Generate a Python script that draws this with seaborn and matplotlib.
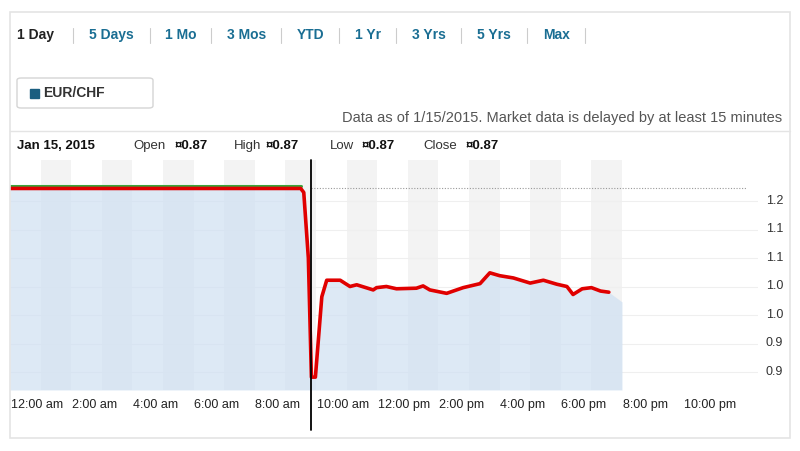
import matplotlib
matplotlib.use("Agg")
import matplotlib.pyplot as plt
import seaborn as sns
import numpy as np
import pandas as pd
from matplotlib.patches import FancyBboxPatch, Rectangle
from matplotlib.lines import Line2D

sns.set_style("white")
plt.rcParams['font.family'] = ['Liberation Sans', 'DejaVu Sans']

hours = [0, 1, 2, 3, 4, 5, 6, 7, 8, 9, 9.5, 9.6, 9.75, 9.85, 9.98, 10.19, 10.35, 10.79, 11.11, 11.33, 11.87,
         11.98, 12.3, 12.63, 13.28, 13.5, 13.72, 14.27, 14.81, 15.36, 15.68, 16.0, 16.45, 17.0, 17.43,
         17.87, 18.2, 18.4, 18.7, 19.0, 19.3, 19.57]
prices = [1.222, 1.222, 1.222, 1.222, 1.222, 1.222, 1.222, 1.222, 1.222, 1.222, 1.222, 1.215, 1.10, 0.891, 0.891, 1.032, 1.061, 1.061, 1.050, 1.053, 1.044,
          1.048, 1.050, 1.046, 1.047, 1.051, 1.044, 1.038, 1.048, 1.055, 1.074, 1.069, 1.065, 1.056, 1.061,
          1.054, 1.050, 1.036, 1.046, 1.048, 1.042, 1.040]
fill_tail_hours = [20.0]
fill_tail_prices = [1.023]
tick_vals = [1.20, 1.15, 1.10, 1.05, 1.00, 0.95, 0.90]
tick_labels = ["1.2", "1.1", "1.1", "1.0", "1.0", "0.9", "0.9"]
time_labels = ["12:00 am", "2:00 am", "4:00 am", "6:00 am", "8:00 am", "10:00 am", "12:00 pm",
               "2:00 pm", "4:00 pm", "6:00 pm", "8:00 pm", "10:00 pm"]
ranges = ["1 Day", "5 Days", "1 Mo", "3 Mos", "YTD", "1 Yr", "3 Yrs", "5 Yrs", "Max"]

W, H = 800, 451
fig = plt.figure(figsize=(W/100, H/100), dpi=100)
fig.patch.set_facecolor("white")

def fx(px): return px / W
def fy(py): return 1 - py / H

fig.add_artist(Rectangle((fx(10), fy(438)), fx(780), 426/H, transform=fig.transFigure,
                         fill=False, edgecolor="#e4e4e4", lw=1.2))

ax = fig.add_axes([fx(10), fy(390), fx(748), 230/H])
xmax = 748/30.6
ax.set_xlim(0, xmax)
ax.set_ylim(1.20 - (189/28.5)*0.05, 1.20 + (41/28.5)*0.05)

for h in range(0, 20):
    if h % 2 == 1:
        ax.axvspan(h, h+1, color="#f3f3f3", lw=0, zorder=0)
for v in tick_vals:
    ax.axhline(v, color="#efefef", lw=0.8, zorder=0.5)

fx_h = hours + fill_tail_hours
fx_p = prices + fill_tail_prices
ax.fill_between(fx_h, fx_p, ax.get_ylim()[0], color="#cfe0f2", alpha=0.7, lw=0, zorder=1)

ax.plot([9.84, 24.1], [1.222, 1.222], ls=(0, (1, 1.5)), color="#999999", lw=0.8, zorder=2)

df = pd.DataFrame({"hour": hours, "price": prices})
pre = df[df.hour <= 9.5]
sns.lineplot(x=pre.hour, y=pre.price + 0.004, ax=ax, color="#3aa43a", lw=2.2, zorder=3)
sns.lineplot(data=df, x="hour", y="price", ax=ax, color="#e00000", lw=2.6, zorder=4, sort=False)

for sp in ax.spines.values():
    sp.set_visible(False)
ax.set_xlabel(""); ax.set_ylabel("")
ax.set_xticks([]); ax.set_yticks([])

for v, lab in zip(tick_vals, tick_labels):
    ax.text(xmax + 0.25, v, lab, ha="left", va="center", fontsize=9, color="#333333", clip_on=False)
for i, lab in enumerate(time_labels):
    ax.text(i*2 + 0.02, ax.get_ylim()[0] - 0.015, lab, ha="left", va="top", fontsize=9,
            color="#222222", clip_on=False)

fig.add_artist(Line2D([fx(311), fx(311)], [fy(160), fy(430)], color="black", lw=1.3))
fig.add_artist(Line2D([fx(10), fx(790)], [fy(131), fy(131)], color="#e4e4e4", lw=1))

xs = [17, 89, 165, 227, 297, 355, 412, 477, 543]
seps = [73, 150, 211, 281, 339, 396, 461, 527, 585]
for i, (x, r) in enumerate(zip(xs, ranges)):
    fig.text(fx(x), fy(35), r, fontsize=10, fontweight="bold", va="center",
             color="#222222" if i == 0 else "#1a6e93")
    fig.add_artist(Line2D([fx(seps[i]), fx(seps[i])], [fy(28), fy(43)], color="#cccccc", lw=0.8))

fig.add_artist(FancyBboxPatch((fx(17), fy(108)), fx(136), 30/H, boxstyle="round,pad=0,rounding_size=0.005",
                              transform=fig.transFigure, facecolor="white", edgecolor="#d5d5d5", lw=1))
fig.add_artist(Rectangle((fx(30), fy(98)), fx(9), 9/H, transform=fig.transFigure, color="#1a5e80"))
fig.text(fx(43), fy(93), "EUR/CHF", fontsize=10, fontweight="bold", va="center", color="#333333")
fig.text(fx(782), fy(118), "Data as of 1/15/2015. Market data is delayed by at least 15 minutes",
         fontsize=10.5, ha="right", va="center", color="#555555")

fig.text(fx(17), fy(146), "Jan 15, 2015", fontsize=9.5, fontweight="bold", va="center", color="#111111")
info = [(133, 175, "Open"), (234, 266, "High"), (330, 362, "Low"), (423, 466, "Close")]
for x, xv, lab in info:
    fig.text(fx(x), fy(146), lab, fontsize=9.5, va="center", color="#333333")
    fig.text(fx(xv), fy(146), "¤0.87", fontsize=9.5, fontweight="bold", va="center", color="#111111")

fig.savefig("out.png", dpi=100)
